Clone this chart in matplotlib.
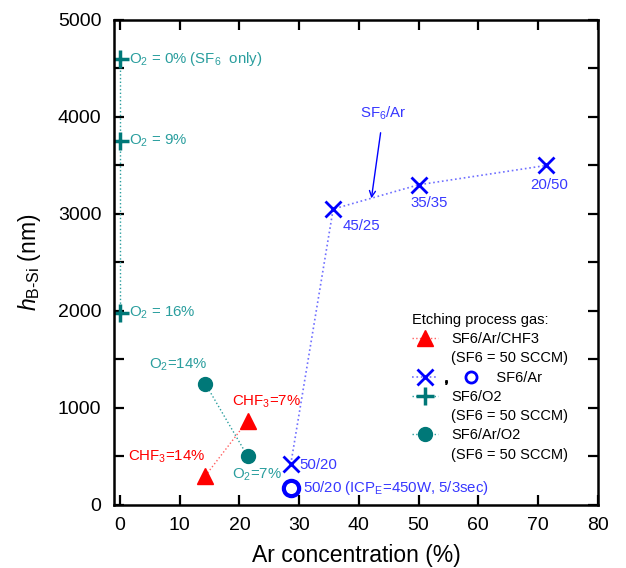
import matplotlib
matplotlib.use("Agg")
import matplotlib.pyplot as plt
from matplotlib.lines import Line2D
from matplotlib.legend_handler import HandlerLine2D

plt.rcParams['font.family'] = ['Liberation Sans', 'DejaVu Sans']
plt.rcParams['mathtext.fontset'] = 'custom'
plt.rcParams['mathtext.rm'] = 'Liberation Sans'
plt.rcParams['mathtext.it'] = 'Liberation Sans:italic'
plt.rcParams['mathtext.bf'] = 'Liberation Sans:bold'

# Data (Ar concentration %, h_B-Si nm)
sf6o2_ar = [0, 0, 0]
sf6o2_h = [4600, 3750, 1980]
sf6aro2_ar = [14.3, 21.4]
sf6aro2_h = [1250, 500]
chf3_ar = [14.3, 21.4]
chf3_h = [300, 870]
sf6ar_ar = [28.6, 35.7, 50.0, 71.4]
sf6ar_h = [420, 3050, 3300, 3500]
icp_ar = [28.6]
icp_h = [170]

teal = '#007878'
teal_txt = '#2a9e9e'
blue = '#0000ff'
blue_ln = '#7070ff'
blue_txt = '#3838ff'
red = '#ff0000'
red_ln = '#ff6060'

fig = plt.figure(figsize=(6.26, 5.68), dpi=100)
ax = fig.add_axes([0.182, 0.111, 0.773, 0.854])

chf3_line, = ax.plot(chf3_ar, chf3_h, ls=':', lw=1, color=red_ln, marker='^',
                     ms=12, mfc=red, mec=red)
ar_line, = ax.plot(sf6ar_ar, sf6ar_h, ls=':', lw=1.2, color=blue_ln, marker='x',
                   ms=12, mew=2, mec=blue)
ax.plot(icp_ar, icp_h, ls='none', marker='o', ms=11, mfc='none', mec=blue, mew=3)
o2_line, = ax.plot(sf6o2_ar, sf6o2_h, ls=':', lw=1, color=teal_txt, marker='+',
                   ms=13, mew=2.5, mec=teal)
aro2_line, = ax.plot(sf6aro2_ar, sf6aro2_h, ls=':', lw=1, color=teal_txt, marker='o',
                     ms=10, mfc=teal, mec=teal)

fs = 10.8
ax.text(1.5, 4600, r'O$_2$ = 0% (SF$_6$  only)', color=teal_txt, fontsize=fs, va='center')
ax.text(1.5, 3750, r'O$_2$ = 9%', color=teal_txt, fontsize=fs, va='center')
ax.text(1.5, 1980, r'O$_2$ = 16%', color=teal_txt, fontsize=fs, va='center')
ax.text(9.8, 1440, r'O$_2$=14%', color=teal_txt, fontsize=fs, va='center', ha='center')
ax.text(18.8, 310, r'O$_2$=7%', color=teal_txt, fontsize=fs, va='center')
ax.text(18.8, 1060, r'CHF$_3$=7%', color=red, fontsize=fs, va='center')
ax.text(1.3, 500, r'CHF$_3$=14%', color=red, fontsize=fs, va='center')
ax.text(30.0, 412, '50/20', color=blue_txt, fontsize=fs, va='center')
ax.text(30.7, 175, r'50/20 (ICP$_\mathrm{E}$=450W, 5/3sec)', color=blue_txt,
        fontsize=fs, va='center')
ax.text(37.2, 2880, '45/25', color=blue_txt, fontsize=fs, va='center')
ax.text(51.7, 3110, '35/35', color=blue_txt, fontsize=fs, va='center', ha='center')
ax.text(71.8, 3300, '20/50', color=blue_txt, fontsize=fs, va='center', ha='center')
ax.annotate(r'SF$_6$/Ar', xy=(42.1, 3160), xytext=(44.1, 4040), color=blue_txt,
            fontsize=fs, ha='center', va='center',
            arrowprops=dict(arrowstyle='->', color=blue, lw=1, shrinkA=6, shrinkB=0))

ax.set_xlim(-1, 80)
ax.set_ylim(0, 5000)
ax.set_xticks(range(0, 81, 10))
ax.set_yticks(range(0, 5001, 1000))
ax.set_yticks(range(500, 5000, 1000), minor=True)
ax.tick_params(which='both', direction='in', top=True, right=True, length=7,
               width=1.6, labelsize=14, pad=9)
for s in ax.spines.values():
    s.set_linewidth(1.8)
ax.set_xlabel('Ar concentration (%)', fontsize=16.5, labelpad=7)
ax.set_ylabel(r'$h_{\mathrm{B\text{-}Si}}$ (nm)', fontsize=16.5, labelpad=11)


class XCircleHandler(HandlerLine2D):
    def create_artists(self, legend, orig_handle, xdescent, ydescent, width,
                       height, fontsize, trans):
        arts = super().create_artists(legend, orig_handle, xdescent, ydescent,
                                      width, height, fontsize, trans)
        y = height / 2 - ydescent
        comma = Line2D([width + 6], [y - 4], ls='none', marker='$,$', ms=2.5,
                       color='black', transform=trans)
        circ = Line2D([width + 24], [y], ls='none', marker='o', ms=8, mfc='none',
                      mec=blue, mew=2, transform=trans)
        return arts + [comma, circ]


blank = Line2D([], [], ls='none')
handles = [chf3_line, blank, ar_line, o2_line, blank, aro2_line, blank]
labels = ['SF6/Ar/CHF3', '(SF6 = 50 SCCM)', '\u00a0' * 11 + 'SF6/Ar', 'SF6/O2',
          '(SF6 = 50 SCCM)', 'SF6/Ar/O2', '(SF6 = 50 SCCM)']
leg = ax.legend(handles, labels, title='Etching process gas:', loc='upper left',
                bbox_to_anchor=(0.615, 0.396), frameon=False, fontsize=10.5,
                title_fontsize=10.5, numpoints=1, handlelength=1.8,
                handletextpad=0.9, labelspacing=0.36, borderpad=0,
                borderaxespad=0, alignment='left',
                handler_map={ar_line: XCircleHandler()})

fig.savefig('out.png', dpi=100)
